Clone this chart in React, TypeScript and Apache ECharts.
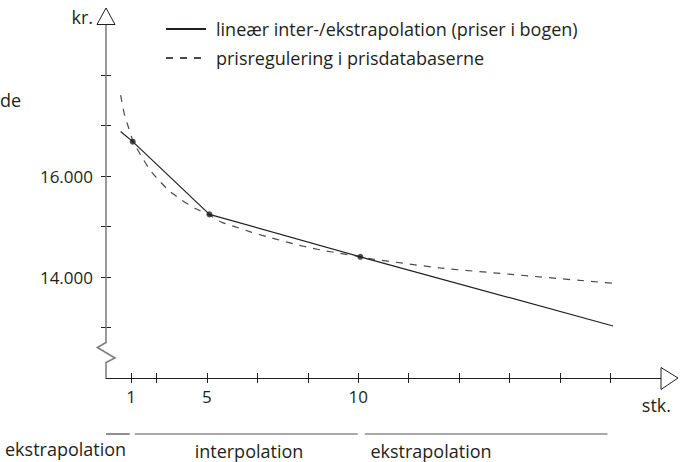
import React, { useEffect, useRef } from "react";
import * as echarts from "echarts";

// x axis is drawn in "tick units" (one tick = one step along the schematic stk. axis)
const xTickValues = [0.5, 1, 2, 3, 4, 5, 6, 7, 8, 9, 10];
const xLabelValues = [0.5, 2, 5];
const xLabelTexts = ["1", "5", "10"];
const yTickValues = [13000, 14000, 15000, 16000, 17000, 18000];
const yLabelValues = [14000, 16000];

// solid: linear inter-/extrapolation
const linePos = [0.29, 0.53, 2.05, 5.04, 10.05];
const lineKr = [16880, 16680, 15240, 14400, 13030];
// the three known prices (dots)
const dotPos = [0.53, 2.05, 5.04];
const dotKr = [16680, 15240, 14400];
// dashed: price regulation curve
const dashPos = [0.29, 0.36, 0.44, 0.54, 0.71, 0.87, 1.07, 1.27, 1.5, 1.76, 2.04, 2.29, 2.59, 2.89, 3.18, 3.48, 3.74, 4.04, 4.34, 4.63, 5.05, 5.29, 6.61, 7.94, 10.05];
const dashKr = [17600, 17240, 16980, 16680, 16380, 16120, 15890, 15690, 15525, 15360, 15230, 15085, 14985, 14885, 14800, 14720, 14650, 14580, 14520, 14470, 14400, 14355, 14180, 14060, 13875];

const seriesNames = ["lineær inter-/ekstrapolation (priser i bogen)", "prisregulering i prisdatabaserne"];
// bottom range brackets [from, to] in x tick units
const spanDark = [0, 0.47];
const spanInter = [0.57, 4.99];
const spanExtra = [5.13, 9.94];

const FONT = "Open Sans";
const TXT = "#231f20";

export default function App() {
  const ref = useRef<HTMLDivElement>(null);
  useEffect(() => {
    const chart = echarts.init(ref.current!, null, { renderer: "svg" });
    const fmtKr = (v: number) => String(v).replace(/(\d)(\d{3})$/, "$1.$2");
    const baseX = {
      type: "value",
      min: 0,
      max: 11,
      position: "bottom",
      splitLine: { show: false },
    };
    const baseY = {
      type: "value",
      min: 12000,
      max: 19000,
      position: "left",
      splitLine: { show: false },
      axisLine: { show: false },
    };
    chart.setOption({
      animation: false,
      grid: { left: 106, right: 19, top: 24.5, bottom: 84, containLabel: false },
      legend: {
        orient: "vertical",
        left: 160,
        top: 15,
        itemWidth: 40,
        itemHeight: 14,
        itemGap: 11,
        data: seriesNames,
        itemStyle: { opacity: 0 },
        textStyle: { fontFamily: FONT, fontSize: 18, color: TXT, padding: [0, 0, 0, 5] },
      },
      xAxis: [
        {
          ...baseX,
          axisLine: { show: true, onZero: false, lineStyle: { color: TXT, width: 1 } },
          axisTick: { show: true, inside: false, length: 5, customValues: xTickValues, lineStyle: { color: TXT } },
          axisLabel: {
            show: true,
            customValues: xLabelValues,
            margin: 10,
            fontFamily: FONT,
            fontSize: 17,
            color: TXT,
            formatter: (v: number) => {
              const i = xLabelValues.indexOf(v);
              return i >= 0 ? xLabelTexts[i] : "";
            },
          },
        },
        {
          ...baseX,
          axisLine: { show: false, onZero: false },
          axisTick: { show: true, inside: true, length: 5, customValues: xTickValues, lineStyle: { color: TXT } },
          axisLabel: { show: false },
        },
      ],
      yAxis: [
        {
          ...baseY,
          axisTick: { show: true, inside: false, length: 5, customValues: yTickValues, lineStyle: { color: TXT } },
          axisLabel: {
            show: true,
            customValues: yLabelValues,
            margin: 13,
            fontFamily: FONT,
            fontSize: 17,
            color: TXT,
            formatter: (v: number) => fmtKr(v),
          },
        },
        {
          ...baseY,
          axisTick: { show: true, inside: true, length: 5, customValues: yTickValues, lineStyle: { color: TXT } },
          axisLabel: { show: false },
        },
      ],
      series: [
        {
          name: seriesNames[0],
          type: "line",
          symbol: "none",
          data: linePos.map((x, i) => [x, lineKr[i]]),
          lineStyle: { color: TXT, width: 1.2 },
          itemStyle: { color: TXT },
          z: 3,
        },
        {
          name: seriesNames[1],
          type: "line",
          symbol: "none",
          smooth: 0.2,
          data: dashPos.map((x, i) => [x, dashKr[i]]),
          lineStyle: { color: "#4a4a4a", width: 1.2, type: [7, 7] },
          itemStyle: { color: "#4a4a4a" },
          z: 2,
        },
        {
          name: "dots",
          type: "scatter",
          symbolSize: 6,
          data: dotPos.map((x, i) => [x, dotKr[i]]),
          itemStyle: { color: TXT },
          z: 4,
        },
      ],
    });

    const p = (x: number, y: number) => chart.convertToPixel({ gridIndex: 0 }, [x, y]) as number[];
    const [ox, oy] = p(0, 12000);
    const top = p(0, 19000)[1];
    const xEnd = p(11, 12000)[0];
    const gx = (v: number) => p(v, 12000)[0];
    const spanY = 434;
    const grey = "#8c8c8c";
    const font18 = `18px "${FONT}"`;
    chart.setOption({
      graphic: [
        {
          type: "polyline",
          shape: {
            points: [
              [ox, top],
              [ox, oy - 35.5],
              [ox - 8.7, oy - 30.5],
              [ox + 9, oy - 20],
              [ox, oy - 15.5],
              [ox, oy],
            ],
          },
          style: { stroke: "#7a7a7a", lineWidth: 1.5, fill: "none" },
          z: 10,
        },
        {
          type: "polygon",
          shape: { points: [[ox, top - 16.5], [ox - 9, top], [ox + 9, top]] },
          style: { stroke: TXT, lineWidth: 1, fill: "#fff" },
          z: 11,
        },
        {
          type: "polygon",
          shape: { points: [[xEnd, oy - 10.5], [xEnd + 17, oy], [xEnd, oy + 11.5]] },
          style: { stroke: TXT, lineWidth: 1, fill: "#fff" },
          z: 11,
        },
        { type: "text", x: 93, y: 17, style: { text: "kr.", font: font18, fill: TXT, align: "right", verticalAlign: "middle" } },
        { type: "text", x: 671, y: 405, style: { text: "stk.", font: font18, fill: TXT, align: "right", verticalAlign: "middle" } },
        { type: "text", x: 0, y: 100, style: { text: "de", font: font18, fill: TXT, align: "left", verticalAlign: "middle" } },
        { type: "line", shape: { x1: gx(spanDark[0]), y1: spanY, x2: gx(spanDark[1]), y2: spanY }, style: { stroke: TXT, lineWidth: 1 } },
        { type: "line", shape: { x1: gx(spanInter[0]), y1: spanY, x2: gx(spanInter[1]), y2: spanY }, style: { stroke: grey, lineWidth: 1.5 } },
        { type: "line", shape: { x1: gx(spanExtra[0]), y1: spanY, x2: gx(spanExtra[1]), y2: spanY }, style: { stroke: grey, lineWidth: 1.5 } },
        { type: "text", x: 5, y: 448.5, style: { text: "ekstrapolation", font: font18, fill: TXT, align: "left", verticalAlign: "middle" } },
        { type: "text", x: 249, y: 451, style: { text: "interpolation", font: font18, fill: TXT, align: "center", verticalAlign: "middle" } },
        { type: "text", x: 431, y: 451, style: { text: "ekstrapolation", font: font18, fill: TXT, align: "center", verticalAlign: "middle" } },
      ],
    });
    return () => chart.dispose();
  }, []);
  return (
    <div
      ref={ref}
      style={{ position: "fixed", left: 0, top: 0, width: 680, height: 462, background: "#fff" }}
    />
  );
}
